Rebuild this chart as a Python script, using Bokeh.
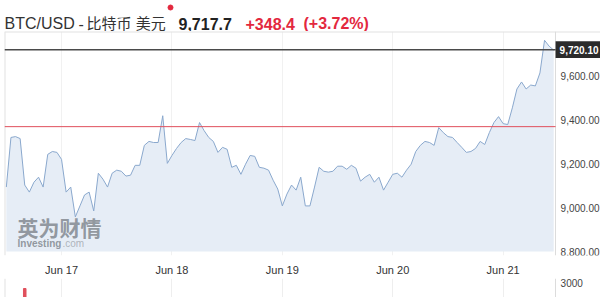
from datetime import datetime, timedelta
from bokeh.plotting import figure
from bokeh.models import Range1d, Label, DatetimeTickFormatter, DaysTicker
from bokeh.layouts import column
from bokeh.embed import file_html
from bokeh.resources import INLINE
from bokeh.core.properties import value

# ---------------- data ----------------
start_time = datetime(2019, 6, 16, 12, 0)   # hourly closes
prices = [
    9094, 9320, 9324, 9315, 9103, 9071, 9116, 9139, 9094, 9243,
    9256, 9252, 9220, 9071, 9094, 8958, 9008, 9058, 9071, 8985,
    9157, 9130, 9094, 9157, 9171, 9166, 9144, 9148, 9193, 9193,
    9284, 9302, 9297, 9297, 9419, 9202, 9238, 9270, 9297, 9315,
    9311, 9306, 9388, 9351, 9320, 9302, 9252, 9275, 9266, 9184,
    9193, 9152, 9198, 9238, 9234, 9184, 9180, 9171, 9125, 9085,
    9008, 9062, 9103, 9080, 9139, 9008, 9008, 9094, 9184, 9166,
    9162, 9166, 9189, 9189, 9175, 9193, 9180, 9121, 9139, 9152,
    9116, 9139, 9080, 9116, 9152, 9157, 9139, 9171, 9198, 9256,
    9284, 9302, 9297, 9284, 9365, 9342, 9324, 9320, 9297, 9275,
    9252, 9256, 9270, 9302, 9288, 9342, 9388, 9415, 9383, 9379,
    9455, 9541, 9573, 9541, 9559, 9555, 9614, 9763, 9736, 9718,
]
times = [start_time + timedelta(hours=i) for i in range(len(prices))]

last_price = 9720.10
prev_close = 9369.3
price_ticks = [8800, 9000, 9200, 9400, 9600]
price_tick_labels = [f"{t:,.2f}" for t in price_ticks]

vol_times = [datetime(2019, 6, 16, 16, 0)]
vol_values = [2400]
vol_ticks = [3000]
vol_tick_labels = [str(t) for t in vol_ticks]

header_name = "BTC/USD"
header_dash = "-"
header_cn = "比特币 美元"
header_price = "9,717.7"
header_change = "+348.4"
header_pct = "(+3.72%)"
watermark_cn = "英为财情"
watermark_en = "Investing"
watermark_com = ".com"

# ---------------- styles / geometry ----------------
FONT = "Liberation Sans"
CJK_FONT = "Liberation Sans, Noto Sans CJK SC"
RED = "#e3283e"
AXIS_GREY = "#dcdcdc"
x_start = datetime(2019, 6, 16, 11, 36)     # left edge of the plot area
axis_x = datetime(2019, 6, 21, 11, 24)      # price scale line (right end of chart area)
x_end = datetime(2019, 6, 21, 21, 10)       # right edge of the picture (price-scale strip)
x_range = Range1d(x_start, x_end)
y_top = 9803
fill_base = 8800
y_bottom = 8782
tag_half = 38                                 # half height of the last-price tag (price units)
day_ticker = DaysTicker(days=list(range(1, 32)))
BORDERS = dict(min_border_left=4, min_border_right=0)

# ---------------- header ----------------
h = figure(width=600, height=31, x_range=Range1d(4, 600), y_range=Range1d(0, 31),
           x_axis_location=None, y_axis_location=None, output_backend="svg",
           toolbar_location=None, title=None, min_border_top=0, min_border_bottom=0,
           **BORDERS)
h.grid.visible = False
h.outline_line_color = None
base = 8
h.text(x=[4], y=[base], text=[header_name], text_font=value(FONT), text_font_size="16px",
       text_color="#333333", text_baseline="alphabetic")
h.text(x=[78], y=[base], text=[header_dash], text_font=value(FONT), text_font_size="16px",
       text_color="#333333", text_baseline="alphabetic")
h.text(x=[86], y=[base], text=[header_cn], text_font=value(CJK_FONT),
       text_font_size="15px", text_color="#333333", text_baseline="alphabetic")
h.scatter(x=[170], y=[24], size=5, color=RED, marker="circle")
h.text(x=[178], y=[base], text=[header_price], text_font=value(FONT), text_font_size="16px",
       text_font_style="bold", text_color="#222222", text_baseline="alphabetic")
h.text(x=[245], y=[base], text=[header_change], text_font=value(FONT), text_font_size="16px",
       text_font_style="bold", text_color=RED, text_baseline="alphabetic")
h.text(x=[303], y=[base], text=[header_pct], text_font=value(FONT), text_font_size="16px",
       text_font_style="bold", text_color=RED, text_baseline="alphabetic")

# ---------------- main price chart ----------------
p = figure(width=600, height=247, x_axis_type="datetime", x_range=x_range,
           y_range=Range1d(y_bottom, y_top), x_axis_location="below", y_axis_location=None,
           output_backend="svg", toolbar_location=None, title=None,
           min_border_top=0, min_border_bottom=21, **BORDERS)
p.outline_line_color = None
p.xgrid.ticker = day_ticker
p.xgrid.grid_line_color = "#f1f1f1"
p.ygrid.visible = False

xax = p.xaxis[0]
xax.ticker = day_ticker
xax.formatter = DatetimeTickFormatter(days="%b %d", hours="%b %d")
xax.major_label_text_font = FONT
xax.major_label_text_font_size = "11px"
xax.major_label_text_color = "#333333"
xax.major_tick_out = 0
xax.major_tick_in = 0
xax.minor_tick_out = 0
xax.minor_tick_in = 0
xax.axis_line_color = None
xax.major_label_standoff = 8

# container borders and price scale line
p.hspan(y=[y_top], line_color="#e2e2e2", line_width=2)
p.vspan(x=[x_start], line_color="#e2e2e2", line_width=2)
p.vspan(x=[axis_x], line_color=AXIS_GREY, line_width=1)

p.varea(x=times, y1=[fill_base] * len(times), y2=prices, fill_color="#e6edf6")
p.line(times, prices, line_color="#8aa8cd", line_width=1)
p.segment(x0=[x_start], y0=[prev_close], x1=[axis_x], y1=[prev_close],
          line_color="#e0505c", line_width=1)
p.segment(x0=[x_start], y0=[last_price], x1=[axis_x], y1=[last_price],
          line_color="#4a4a4a", line_width=1.5)

# price scale labels
p.text(x=[axis_x] * len(price_ticks), y=price_ticks, text=price_tick_labels, x_offset=5,
       text_font=value(FONT), text_font_size="10px", text_color="#444444",
       text_baseline="middle", text_align="left")
# last-price tag
p.quad(left=[axis_x], right=[x_end], bottom=[last_price - tag_half],
       top=[last_price + tag_half], fill_color="#2b2b2b", line_color=None)
p.text(x=[axis_x], y=[last_price], text=[f"{last_price:,.2f}"], x_offset=4,
       text_font=value(FONT), text_font_size="10px", text_font_style="bold",
       text_color="white", text_baseline="middle", text_align="left")

# watermark
p.add_layout(Label(x=13, y=14, x_units="screen", y_units="screen", text=watermark_cn,
                   text_font="Noto Sans CJK SC", text_font_size="21px",
                   text_font_style="bold", text_color="#7b8188", text_alpha=0.8))
p.add_layout(Label(x=13, y=7, x_units="screen", y_units="screen", text=watermark_en,
                   text_font=FONT, text_font_size="10px", text_font_style="bold",
                   text_color="#7b8188", text_alpha=0.8))
p.add_layout(Label(x=58, y=7, x_units="screen", y_units="screen", text=watermark_com,
                   text_font=FONT, text_font_size="10px",
                   text_color="#9aa0a6", text_alpha=0.75))

# ---------------- volume strip ----------------
v = figure(width=600, height=19, x_axis_type="datetime", x_range=x_range,
           y_range=Range1d(1500, 3400), x_axis_location=None, y_axis_location=None,
           output_backend="svg", toolbar_location=None, title=None,
           min_border_top=0, min_border_bottom=0, **BORDERS)
v.outline_line_color = None
v.ygrid.visible = False
v.xgrid.ticker = day_ticker
v.xgrid.grid_line_color = "#eeeeee"
v.vspan(x=[x_start], line_color="#e2e2e2", line_width=2)
v.vspan(x=[axis_x], line_color=AXIS_GREY, line_width=1)
v.vbar(x=vol_times, top=vol_values, bottom=0, width=0.55 * 3600 * 1000,
       color="#e0505c")
v.text(x=[axis_x] * len(vol_ticks), y=vol_ticks, text=vol_tick_labels, x_offset=5,
       text_font=value(FONT), text_font_size="10px", text_color="#444444",
       text_baseline="middle", text_align="left")

layout = column(h, p, v, spacing=0)
open("out.html", "w").write(file_html(layout, INLINE))
